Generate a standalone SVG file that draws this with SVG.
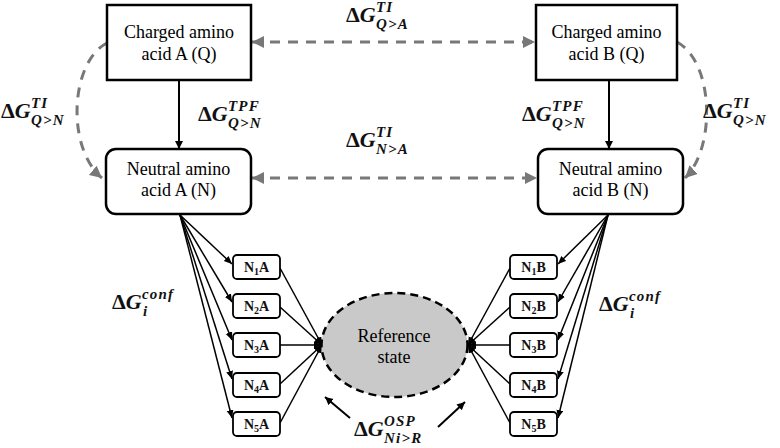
<svg xmlns="http://www.w3.org/2000/svg" width="780" height="448" viewBox="0 0 780 448">
<style>
.box{fill:#fff;stroke:#000;stroke-width:2.5}
.sbox{fill:#fff;stroke:#000;stroke-width:1.8}
.t{font-family:"Liberation Serif","Times New Roman",serif;font-size:18px;fill:#000;text-anchor:middle}
.st{font-family:"Liberation Serif","Times New Roman",serif;font-size:14px;font-weight:bold;fill:#111;text-anchor:middle}
.m{font-family:"Liberation Serif","Times New Roman",serif;font-size:22px;font-weight:bold;font-style:italic;fill:#111}
.s{font-size:15px;letter-spacing:1.2px}
.dash{fill:none;stroke:#787878;stroke-width:3;stroke-dasharray:10 8}
.solid{fill:none;stroke:#000;stroke-width:2}
.fan{fill:none;stroke:#000;stroke-width:1.5}
</style>
<defs>
<marker id="ga" markerUnits="userSpaceOnUse" markerWidth="13" markerHeight="13" refX="12" refY="6" orient="auto-start-reverse"><path d="M0,0 L12,6 L0,12 z" fill="#787878"/></marker>
<marker id="ba" markerUnits="userSpaceOnUse" markerWidth="10" markerHeight="10" refX="8" refY="4" orient="auto"><path d="M0,0 L8,4 L0,8 z" fill="#000"/></marker>
<marker id="fa" markerUnits="userSpaceOnUse" markerWidth="9" markerHeight="9" refX="8" refY="3.5" orient="auto"><path d="M0,0 L8,3.5 L0,7 z" fill="#000"/></marker>
</defs>

<g id="connectors">
<line class="dash" x1="252" y1="42" x2="535" y2="42" marker-start="url(#ga)" marker-end="url(#ga)"/>
<line class="dash" x1="252" y1="178" x2="537" y2="178" marker-start="url(#ga)" marker-end="url(#ga)"/>
<path class="dash" d="M107,43 C70,62 66,148 102,178" marker-end="url(#ga)"/>
<path class="dash" d="M677,42 C714,62 716,148 685,178" marker-end="url(#ga)"/>
<line class="solid" x1="179" y1="80" x2="179" y2="149" marker-end="url(#ba)"/>
<line class="solid" x1="609" y1="80" x2="609" y2="149" marker-end="url(#ba)"/>
<g class="fan">
<line x1="180" y1="215" x2="232" y2="264" marker-end="url(#fa)"/>
<line x1="180" y1="215" x2="232" y2="302" marker-end="url(#fa)"/>
<line x1="180" y1="215" x2="232" y2="340" marker-end="url(#fa)"/>
<line x1="180" y1="215" x2="232" y2="379" marker-end="url(#fa)"/>
<line x1="180" y1="215" x2="232" y2="418" marker-end="url(#fa)"/>
<line x1="280" y1="268" x2="322" y2="345" marker-end="url(#fa)"/>
<line x1="280" y1="307" x2="322" y2="345" marker-end="url(#fa)"/>
<line x1="280" y1="345" x2="322" y2="345" marker-end="url(#fa)"/>
<line x1="280" y1="384" x2="322" y2="345" marker-end="url(#fa)"/>
<line x1="280" y1="423" x2="322" y2="345" marker-end="url(#fa)"/>
<line x1="608" y1="215" x2="558" y2="264" marker-end="url(#fa)"/>
<line x1="608" y1="215" x2="558" y2="302" marker-end="url(#fa)"/>
<line x1="608" y1="215" x2="558" y2="340" marker-end="url(#fa)"/>
<line x1="608" y1="215" x2="558" y2="379" marker-end="url(#fa)"/>
<line x1="608" y1="215" x2="558" y2="418" marker-end="url(#fa)"/>
<line x1="510" y1="268" x2="468" y2="345" marker-end="url(#fa)"/>
<line x1="510" y1="307" x2="468" y2="345" marker-end="url(#fa)"/>
<line x1="510" y1="345" x2="468" y2="345" marker-end="url(#fa)"/>
<line x1="510" y1="384" x2="468" y2="345" marker-end="url(#fa)"/>
<line x1="510" y1="423" x2="468" y2="345" marker-end="url(#fa)"/>
</g>
<line class="solid" x1="350" y1="418" x2="325" y2="397" marker-end="url(#ba)"/>
<line class="solid" x1="438" y1="427" x2="465" y2="402" marker-end="url(#ba)"/>
</g>

<g id="chargedA"><rect class="box" x="107" y="5" width="144" height="75"/>
<text class="t" x="179" y="38">Charged amino</text><text class="t" x="179" y="60">acid A (Q)</text></g>
<g id="chargedB"><rect class="box" x="536" y="5" width="141" height="75"/>
<text class="t" x="606.5" y="38">Charged amino</text><text class="t" x="606.5" y="60">acid B (Q)</text></g>
<g id="neutralA"><rect class="box" x="106" y="149" width="145" height="65" rx="10"/>
<text class="t" x="178.5" y="175">Neutral amino</text><text class="t" x="178.5" y="196">acid A (N)</text></g>
<g id="neutralB"><rect class="box" x="538" y="149" width="145" height="65" rx="10"/>
<text class="t" x="610.5" y="175">Neutral amino</text><text class="t" x="610.5" y="196">acid B (N)</text></g>

<g id="N1A"><rect class="sbox" x="233" y="255" width="47" height="24" rx="4"/><text class="st" x="256.5" y="272">N<tspan font-size="10" dy="3">1</tspan><tspan dy="-3">A</tspan></text></g>
<g id="N2A"><rect class="sbox" x="233" y="294" width="47" height="24" rx="4"/><text class="st" x="256.5" y="311">N<tspan font-size="10" dy="3">2</tspan><tspan dy="-3">A</tspan></text></g>
<g id="N3A"><rect class="sbox" x="233" y="333" width="47" height="24" rx="4"/><text class="st" x="256.5" y="350">N<tspan font-size="10" dy="3">3</tspan><tspan dy="-3">A</tspan></text></g>
<g id="N4A"><rect class="sbox" x="233" y="373" width="47" height="24" rx="4"/><text class="st" x="256.5" y="390">N<tspan font-size="10" dy="3">4</tspan><tspan dy="-3">A</tspan></text></g>
<g id="N5A"><rect class="sbox" x="233" y="412" width="47" height="24" rx="4"/><text class="st" x="256.5" y="429">N<tspan font-size="10" dy="3">5</tspan><tspan dy="-3">A</tspan></text></g>
<g id="N1B"><rect class="sbox" x="510" y="255" width="47" height="24" rx="4"/><text class="st" x="533.5" y="272">N<tspan font-size="10" dy="3">1</tspan><tspan dy="-3">B</tspan></text></g>
<g id="N2B"><rect class="sbox" x="510" y="294" width="47" height="24" rx="4"/><text class="st" x="533.5" y="311">N<tspan font-size="10" dy="3">2</tspan><tspan dy="-3">B</tspan></text></g>
<g id="N3B"><rect class="sbox" x="510" y="333" width="47" height="24" rx="4"/><text class="st" x="533.5" y="350">N<tspan font-size="10" dy="3">3</tspan><tspan dy="-3">B</tspan></text></g>
<g id="N4B"><rect class="sbox" x="510" y="373" width="47" height="24" rx="4"/><text class="st" x="533.5" y="390">N<tspan font-size="10" dy="3">4</tspan><tspan dy="-3">B</tspan></text></g>
<g id="N5B"><rect class="sbox" x="510" y="412" width="47" height="24" rx="4"/><text class="st" x="533.5" y="429">N<tspan font-size="10" dy="3">5</tspan><tspan dy="-3">B</tspan></text></g>

<g id="reference"><ellipse cx="394.5" cy="345" rx="73" ry="52" fill="#c9c9c9" stroke="#000" stroke-width="2.5" stroke-dasharray="8 5"/>
<text class="t" x="394" y="342">Reference</text><text class="t" x="394" y="363">state</text></g>

<g id="labels">
<text class="m" x="346" y="22"><tspan font-style="normal">Δ</tspan>G<tspan class="s" x="376" dy="-10">TI</tspan><tspan class="s" x="376" dy="17">Q&gt;A</tspan></text>
<text class="m" x="346" y="147"><tspan font-style="normal">Δ</tspan>G<tspan class="s" x="376" dy="-10">TI</tspan><tspan class="s" x="376" dy="17">N&gt;A</tspan></text>
<text class="m" x="1" y="118"><tspan font-style="normal">Δ</tspan>G<tspan class="s" x="31" dy="-10">TI</tspan><tspan class="s" x="31" dy="17">Q&gt;N</tspan></text>
<text class="m" x="703" y="118"><tspan font-style="normal">Δ</tspan>G<tspan class="s" x="733" dy="-10">TI</tspan><tspan class="s" x="733" dy="17">Q&gt;N</tspan></text>
<text class="m" x="198" y="121"><tspan font-style="normal">Δ</tspan>G<tspan class="s" x="228" dy="-10">TPF</tspan><tspan class="s" x="228" dy="17">Q&gt;N</tspan></text>
<text class="m" x="522" y="121"><tspan font-style="normal">Δ</tspan>G<tspan class="s" x="552" dy="-10">TPF</tspan><tspan class="s" x="552" dy="17">Q&gt;N</tspan></text>
<text class="m" x="112" y="309"><tspan font-style="normal">Δ</tspan>G<tspan class="s" x="142" dy="-10">conf</tspan><tspan class="s" x="143" dy="17">i</tspan></text>
<text class="m" x="599" y="311"><tspan font-style="normal">Δ</tspan>G<tspan class="s" x="629" dy="-10">conf</tspan><tspan class="s" x="630" dy="17">i</tspan></text>
<text class="m" x="354" y="436"><tspan font-style="normal">Δ</tspan>G<tspan class="s" x="384" dy="-10">OSP</tspan><tspan class="s" x="384" dy="17">Ni&gt;R</tspan></text>
</g>
</svg>
